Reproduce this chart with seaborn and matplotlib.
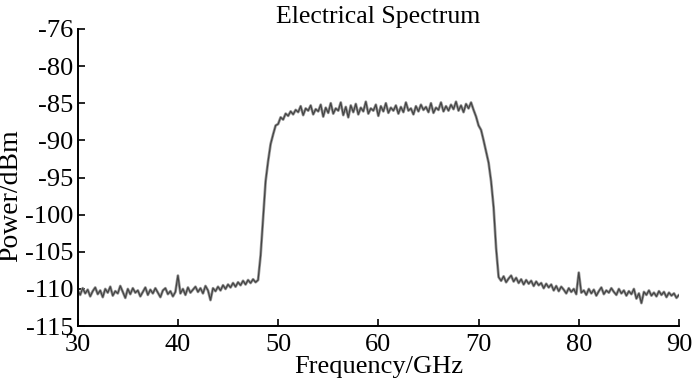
import numpy as np
import pandas as pd
import matplotlib
matplotlib.use("Agg")
import matplotlib.pyplot as plt
import seaborn as sns

# ---- data (0.25 GHz grid, 30..90 GHz) ----
floor_low = [
    -110.2, -110.8, -109.9, -110.6, -110.1, -111.0, -110.3, -109.8,
    -110.7, -110.2, -111.1, -110.0, -110.5, -109.7, -110.9, -110.3,
    -110.6, -109.6, -110.4, -111.2, -110.0, -110.7, -109.9, -110.5,
    -110.2, -111.0, -110.4, -109.8, -110.8, -110.1, -110.6, -109.9,
    -110.5, -111.1, -110.2, -109.9, -110.7, -110.3, -111.0, -110.4,
    -108.2, -110.6, -110.0, -110.8, -109.8, -110.5, -110.1, -109.7,
    -110.4, -109.9, -110.6, -109.6, -110.2, -111.5, -109.9, -110.3,
    -109.7, -110.2, -109.5, -110.0, -109.4, -109.8, -109.2, -109.7,
    -109.1, -109.5, -108.9, -109.4, -108.8, -109.2, -108.7, -109.1,
    -108.8,
]
rise = [
    -105.5, -100.5, -95.5, -92.8, -90.5, -89.2, -88.0, -87.8,
    -86.9, -87.2, -86.4, -86.7, -86.1, -86.5, -85.9,
]
passband = [
    -86.2, -85.4, -86.6, -85.7, -86.0, -85.3, -86.5, -85.8,
    -86.1, -85.2, -86.8, -85.6, -86.3, -85.0, -86.4, -85.7,
    -86.0, -84.9, -86.6, -85.5, -86.9, -85.3, -86.2, -85.1,
    -86.5, -85.6, -86.1, -84.8, -86.4, -85.7, -86.0, -85.2,
    -86.7, -85.4, -86.1, -85.0, -86.3, -85.6, -86.0, -85.3,
    -86.4, -85.5, -86.2, -84.9, -86.0, -85.7, -86.5, -85.4,
    -86.1, -85.2, -85.9, -85.5, -86.2, -85.0, -86.3, -85.6,
    -85.9, -84.9, -86.1, -85.4, -86.0, -85.2, -85.8, -84.8,
    -86.0, -85.3, -86.2, -85.1, -85.7, -84.9, -85.9, -86.8,
]
fall = [-88.0, -88.6, -90.0, -91.5, -93.0, -95.5, -99.0, -104.5]
floor_high = [
    -108.4, -108.9, -108.3, -109.1, -108.6, -108.2, -109.0, -108.5,
    -109.2, -108.7, -109.4, -108.8, -109.3, -108.9, -109.6, -109.0,
    -109.5, -109.2, -109.9, -109.3, -109.8, -109.4, -110.2, -109.6,
    -110.3, -109.7, -110.1, -110.6, -109.9, -110.4, -110.0, -110.7,
    -107.8, -110.5, -110.2, -110.8, -110.0, -110.6, -110.1, -110.9,
    -110.3, -109.8, -110.7, -110.2, -110.5, -109.9, -110.4, -110.8,
    -110.0, -110.6, -110.2, -110.9, -110.3, -110.7, -110.0, -111.3,
    -110.6, -111.9, -110.4, -110.8, -110.2, -110.9, -110.5, -111.0,
    -110.3, -110.8, -110.4, -111.1, -110.5, -110.9, -110.6, -111.2,
    -110.8,
]
power = floor_low + rise + passband + fall + floor_high
freq_start, freq_stop = 30, 90
frequency = np.linspace(freq_start, freq_stop, len(power))

x_ticks = [30, 40, 50, 60, 70, 80, 90]
y_ticks = [-75, -80, -85, -90, -95, -100, -105, -110, -115]
y_tick_labels = ["-76", "-80", "-85", "-90", "-95", "-100", "-105", "-110", "-115"]

df = pd.DataFrame({"Frequency": frequency, "Power": power})

sns.set_theme(style="ticks")
plt.rcParams["font.family"] = ["Liberation Serif", "DejaVu Serif"]
plt.rcParams["text.color"] = "black"
plt.rcParams["axes.labelcolor"] = "black"

fig = plt.figure(figsize=(7.0, 3.91), dpi=100)
ax = fig.add_axes([0.111, 0.166, 0.859, 0.760])

sns.lineplot(data=df, x="Frequency", y="Power", ax=ax, color="#9a9a9a",
             linewidth=2.0, estimator=None)
sns.lineplot(data=df, x="Frequency", y="Power", ax=ax, color="#444444",
             linewidth=0.9, estimator=None)

ax.set_xlim(30, 90)
ax.set_ylim(-115, -75)
ax.set_xticks(x_ticks)
ax.set_xticklabels([str(t) for t in x_ticks])
ax.set_yticks(y_ticks)
ax.set_yticklabels(y_tick_labels)

for s in ["top", "right"]:
    ax.spines[s].set_visible(False)
for s in ["left", "bottom"]:
    ax.spines[s].set_linewidth(1.4)
    ax.spines[s].set_color("black")

ax.tick_params(axis="both", direction="in", length=5, width=1.2,
               labelsize=19, colors="black", labelcolor="black", pad=3)
ax.tick_params(axis="x", pad=6)

ax.set_title("Electrical Spectrum", fontsize=18.5, pad=4, color="black")
ax.set_xlabel("Frequency/GHz", fontsize=19, labelpad=0, color="black")
ax.set_ylabel("Power/dBm", fontsize=20, color="black")
ax.yaxis.set_label_coords(-0.090, 0.44)

fig.savefig("out.png", dpi=100, facecolor="white")
